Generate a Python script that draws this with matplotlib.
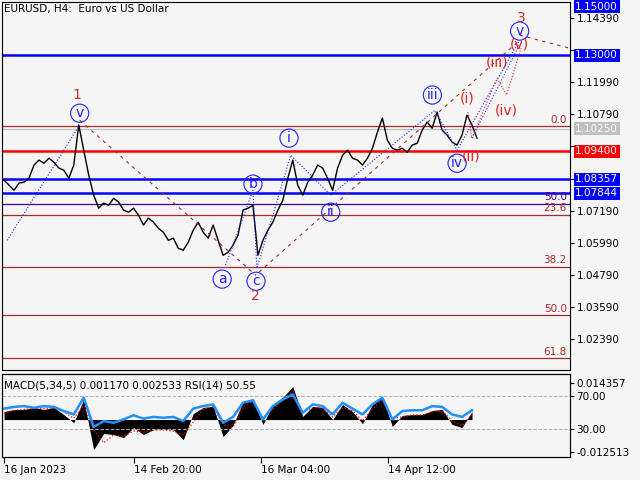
import numpy as np
import matplotlib
matplotlib.use("Agg")
import matplotlib.pyplot as plt

price = [1.0833,1.0814,1.0795,1.0822,1.0825,1.0840,1.0889,1.0908,1.0896,1.0915,1.0900,1.0878,1.0870,1.0840,1.0889,1.1039,
         1.0945,1.0852,1.0777,1.0728,1.0747,1.0739,1.0765,1.0751,1.0721,1.0713,1.0728,1.0702,1.0665,1.0691,1.0676,1.0653,
         1.0638,1.0608,1.0616,1.0578,1.0571,1.0601,1.0646,1.0676,1.0638,1.0616,1.0665,1.0608,1.0552,1.0563,1.0590,1.0627,
         1.0721,1.0728,1.0739,1.0552,1.0608,1.0646,1.0676,1.0721,1.0758,1.0840,1.0908,1.0814,1.0777,1.0825,1.0852,1.0889,
         1.0878,1.0840,1.0795,1.0878,1.0926,1.0945,1.0915,1.0908,1.0889,1.0915,1.0952,1.1012,1.1065,1.0982,1.0952,1.0945,
         1.0952,1.0937,1.0964,1.0971,1.1020,1.1050,1.1027,1.1087,1.1020,1.1001,1.0975,1.0964,1.1001,1.1076,1.1039,1.0990]
macd = [.0031,.0039,.0039,.0047,.0039,.0047,.0019,-.0012,.0078,-.0117,-.0054,-.0058,-.0070,-.0031,-.0058,-.0039,
        -.0039,-.0039,-.0078,.0023,.0047,.0051,-.0066,-.0023,.0070,.0078,-.0019,.0058,.0086,.0128,.0012,.0051,
        .0047,0.0,.0058,.0031,-.0016,.0058,.0089,-.0027,.0016,.0019,.0019,.0035,.0039,-.0019,-.0031,.0031]
signal = [.0025,.0035,.0039,.0043,.0043,.0045,.0030,.0005,.0055,-.0040,-.0090,-.0060,-.0065,-.0045,-.0050,-.0040,
          -.0039,-.0045,-.0060,-.0010,.0040,.0050,-.0020,-.0030,.0050,.0070,.0005,.0040,.0075,.0110,.0030,.0045,
          .0045,.0010,.0045,.0035,-.0005,.0040,.0075,.0005,.0010,.0018,.0018,.0030,.0035,-.0005,-.0025,.0020]
rsi = [55,57,58,56,58,57,52,48,68,33,40,38,42,47,43,45,44,45,40,55,58,60,38,45,62,65,42,58,66,72,50,60,
       58,48,62,55,48,60,68,42,52,53,53,58,57,48,45,53]
date_ticks = [0, 29.83, 59.17, 88.5]
date_labels = ["16 Jan 2023", "14 Feb 20:00", "16 Mar 04:00", "14 Apr 12:00"]
price_ticks = [1.14390,1.13190,1.11990,1.10790,1.09590,1.08390,1.07190,1.05990,1.04790,1.03590,1.02390]
shown_ticks = [1.14390,1.11990,1.10790,1.07190,1.05990,1.04790,1.03590,1.02390]
hlines = [(1.1300,'#0000ff','1.13000'),(1.0940,'#ff0000','1.09400'),(1.08357,'#0000ff','1.08357'),
          (1.07844,'#0000ff','1.07844')]
fib = [(1.1035,'0.0','#a52a2a'),(1.0745,'50.0','#4b0082'),(1.0704,'23.6','#a52a2a'),
       (1.0509,'38.2','#a52a2a'),(1.0329,'50.0','#a52a2a'),(1.0168,'61.8','#a52a2a')]

step_p = 1.146
step_m = 2.292
xp = np.arange(len(price))*step_p
xm = np.arange(len(macd))*step_m

bg = '#f5f5f5'
fig = plt.figure(figsize=(6.4,4.8), dpi=100, facecolor=bg)
ax = fig.add_axes([0.003,0.229,0.887,0.767], facecolor=bg)
ax.set_xlim(-0.5,130.2); ax.set_ylim(1.0123,1.1499)
for y,lab,c in fib:
    ax.axhline(y,color=c,lw=0.9)
    ax.text(0.995,y+0.0005,lab,transform=ax.get_yaxis_transform(),ha='right',va='bottom',color=c,fontsize=7.5)
ax.axhline(1.1025,color='#c0c0c0',lw=0.9)
for y,c,l in hlines:
    ax.axhline(y,color=c,lw=1.8)
ax.plot(xp,price,color='black',lw=1.0)

blue='#2020ff'; red='#e02020'; brown='#a52a2a'
def ln(pts,c,ls):
    ax.plot([p[0] for p in pts],[p[1] for p in pts],color=c,ls=ls,lw=0.8)
ln([(0.7,1.0608),(17.4,1.1039)],blue,':')
ln([(17.4,1.1057),(58.0,1.0477)],brown,(0,(3,4)))
ln([(58.7,1.0489),(118.7,1.1356)],brown,(0,(3,4)))
ln([(118.7,1.1375),(130.2,1.1326)],brown,(0,(3,4)))
ln([(51.0,1.0515),(57.3,1.0795),(58.2,1.0503),(66.0,1.0926),(75.2,1.0777),(99.2,1.1094),(104.3,1.0945),(118.7,1.1356)],blue,':')
ln([(106.8,1.1087),(107.7,1.0990),(113.5,1.1214),(115.7,1.1151),(119.0,1.1326)],red,':')
ln([(107.7,1.0990),(118.7,1.1340)],blue,':')

circ=[('v',17.4,1.1083),('a',50.2,1.0463),('c',58.0,1.0455),('b',57.3,1.0818),('i',65.6,1.0990),
      ('ii',75.2,1.0713),('iii',98.6,1.1151),('iv',104.3,1.0896),('v',118.7,1.1390)]
for t,x,y in circ:
    ax.text(x,y,t,color=blue,fontsize=10,ha='center',va='center',
            bbox=dict(boxstyle='circle,pad=0.15',fc='none',ec=blue,lw=0.8))
for t,x,y in [('1',16.7,1.1151),('2',57.8,1.0399),('3',119.0,1.1439)]:
    ax.text(x,y,t,color='#c03030',fontsize=10,ha='center',va='center')
for t,x,y in [('(i)',106.6,1.1139),('(ii)',107.5,1.0923),('(iii)',113.5,1.1274),('(iv)',115.7,1.1095),('(v)',118.7,1.1338)]:
    ax.text(x,y,t,color=red,fontsize=10,ha='center',va='center')

ax.text(0.003,0.995,'EURUSD, H4:  Euro vs US Dollar',transform=ax.transAxes,fontsize=7.5,va='top')
ax.yaxis.tick_right()
ax.set_yticks(price_ticks)
ax.set_yticklabels(['%.5f'%v if v in shown_ticks else '' for v in price_ticks],fontsize=7.5)
ax.set_xticks([])
ax.tick_params(axis='y',length=3,pad=2)
bt = ax.get_yaxis_transform()
for y,c,l in [(1.1481,'#0000ff','1.15000')]+[(h[0],h[1],h[2]) for h in hlines]+[(1.1025,'#c0c0c0','1.10250')]:
    ax.text(1.01,y,l,transform=bt,fontsize=7.5,color='white',va='center',ha='left',clip_on=False,
            bbox=dict(boxstyle='square,pad=0.15',fc=c,ec='none'))

ax2 = fig.add_axes([0.003,0.048,0.887,0.172], facecolor=bg)
ax2.set_xlim(-0.5,130.2); ax2.set_ylim(-0.0145,0.0175)
ax2.fill_between(xm,0,macd,color='black',lw=0)
ax2.plot(xm,signal,color='red',ls=':',lw=0.9)
ax3 = ax2.twinx()
ax2.yaxis.tick_right()
ax2.set_yticks([0.014357,-0.012513]); ax2.set_yticklabels(['0.014357','-0.012513'],fontsize=7.5)
ax3.set_ylim(-3,96)
ax3.axhline(70,color='#b0b0b0',ls='--',lw=0.7); ax3.axhline(30,color='#b0b0b0',ls='--',lw=0.7)
ax3.plot(xm,rsi,color='#1e90ff',lw=1.8)
ax3.set_yticks([70,30]); ax3.set_yticklabels(['70.00','30.00'],fontsize=7.5)
ax2.text(0.003,0.93,'MACD(5,34,5) 0.001170 0.002533 RSI(14) 50.55',transform=ax2.transAxes,fontsize=7.5,va='top')
ax2.set_xticks(date_ticks); ax2.set_xticklabels(date_labels,fontsize=7.5,ha='left')
ax2.tick_params(axis='x',length=4,pad=2)
ax2.tick_params(axis='y',length=3,pad=2); ax3.tick_params(axis='y',length=3,pad=2)
fig.savefig('out.png',dpi=100,facecolor=bg)
